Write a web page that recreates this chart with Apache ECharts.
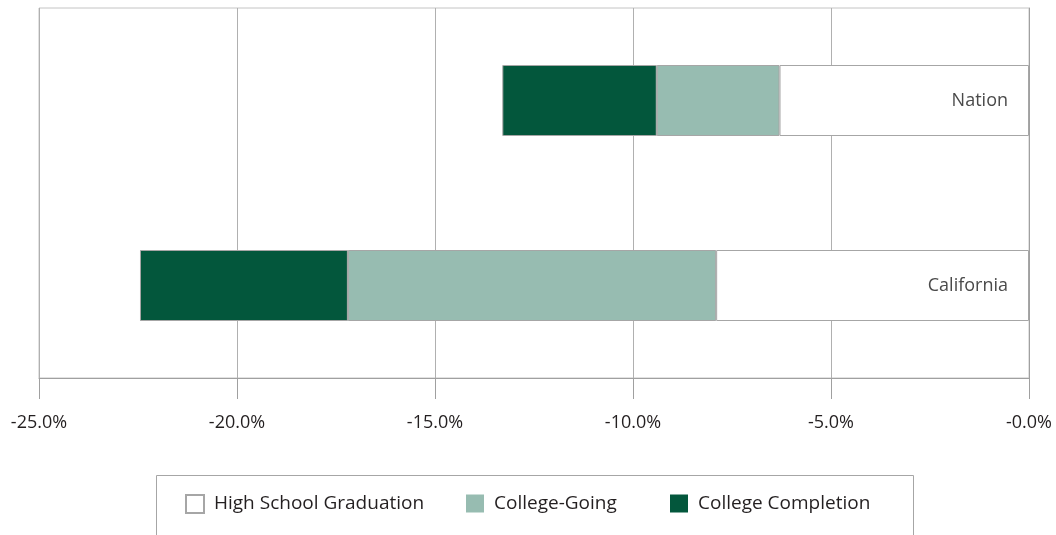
<!DOCTYPE html>
<html>
<head>
<meta charset="utf-8">
<script src="https://cdn.jsdelivr.net/npm/echarts@6/dist/echarts.min.js"></script>
<style>
html,body{margin:0;padding:0;background:#fff;}
#main{width:1056px;height:535px;}
</style>
</head>
<body>
<div id="main"></div>
<script>
var categories = ['Nation', 'California'];
var highSchool = [-6.3, -7.9];
var collegeGoing = [-3.1, -9.3];
var collegeCompletion = [-3.9, -5.25];
var xTicks = {min: -25, max: 0, interval: 5};

var fontName = "'Open Sans', 'Noto Sans', sans-serif";
var chart = echarts.init(document.getElementById('main'));

function legendAt(x, name, border){
    var l = {
        left: x, top: 494, padding: 0,
        itemWidth: 18, itemHeight: 18,
        icon: 'rect',
        data: [name],
        selectedMode: false,
        textStyle: {fontFamily: fontName, fontSize: 19, color: '#231f20', padding: [0, 0, 0, 5]}
    };
    if(!border){
        l.itemStyle = {borderWidth: 0};
    }
    return l;
}

var option = {
    animation: false,
    grid: {left: 39, right: 27, top: 8, bottom: 157, show: true, borderColor: '#c4c4c4', borderWidth: 1},
    graphic: [{
        type: 'rect',
        shape: {x: 156.5, y: 475.5, width: 757, height: 80},
        style: {fill: 'none', stroke: '#a6a6a6', lineWidth: 1},
        z: -1
    }],
    legend: [
        legendAt(185, 'High School Graduation', true),
        legendAt(466, 'College-Going', false),
        legendAt(670, 'College Completion', false)
    ],
    xAxis: {
        type: 'value',
        min: xTicks.min, max: xTicks.max, interval: xTicks.interval,
        axisLine: {show: true, lineStyle: {color: '#a0a0a0'}},
        axisTick: {show: true, length: 21, lineStyle: {color: '#a0a0a0'}},
        splitLine: {show: true, lineStyle: {color: '#b0b0b0'}},
        axisLabel: {
            margin: 36,
            fontFamily: fontName, fontSize: 18, color: '#231f20',
            formatter: function(v){ return v === 0 ? '-0.0%' : v.toFixed(1) + '%'; }
        }
    },
    yAxis: {
        type: 'category',
        data: categories,
        inverse: true,
        axisLine: {show: true, lineStyle: {color: '#a0a0a0'}},
        axisTick: {show: false},
        axisLabel: {show: false}
    },
    series: [{
        name: 'High School Graduation', type: 'bar', stack: 'total', barWidth: 71,
        data: highSchool,
        itemStyle: {color: '#ffffff', borderColor: '#a6a6a6', borderWidth: 1},
        label: {show: true, position: 'insideRight', distance: 21, formatter: '{b}',
            fontFamily: fontName, fontSize: 18, color: '#4a4a4a'}
    }, {
        name: 'College-Going', type: 'bar', stack: 'total', barWidth: 71,
        data: collegeGoing,
        itemStyle: {color: '#97bcb1', borderColor: '#a6a6a6', borderWidth: 1}
    }, {
        name: 'College Completion', type: 'bar', stack: 'total', barWidth: 71,
        data: collegeCompletion,
        itemStyle: {color: '#03573c', borderColor: '#a6a6a6', borderWidth: 1}
    }]
};
chart.setOption(option);
</script>
</body>
</html>
